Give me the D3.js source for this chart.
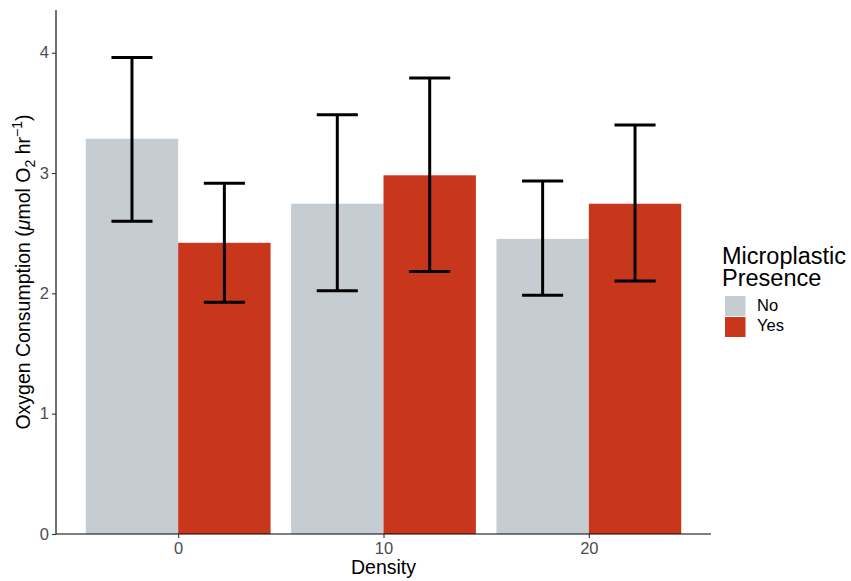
<!DOCTYPE html>
<html>
<head>
<meta charset="utf-8">
<script src="https://cdn.jsdelivr.net/npm/d3@7"></script>
<style>
  body { margin: 0; background: #fff; }
  text { font-family: "Liberation Sans", Arial, sans-serif; }
</style>
</head>
<body>
<div id="chart"></div>
<script>
// densities on the x axis
const densities = [0, 10, 20];
const groups = ['No', 'Yes'];

// mean oxygen consumption per density, one array per microplastic group
const meanNo = [3.285, 2.745, 2.453];
const meanYes = [2.420, 2.981, 2.745];
// error bar bounds
const lowNo = [2.600, 2.021, 1.984];
const highNo = [3.961, 3.484, 2.933];
const lowYes = [1.926, 2.181, 2.102];
const highYes = [2.916, 3.790, 3.400];

const yTicks = [0, 1, 2, 3, 4];
const colors = ['#c5cdd3', '#c8371b'];

const width = 851, height = 581;
const margin = { top: 10, right: 140, bottom: 47, left: 56 };

const rows = [];
densities.forEach(function(d, i) {
  rows.push({ density: d, group: 'No', mean: meanNo[i], lo: lowNo[i], hi: highNo[i] });
  rows.push({ density: d, group: 'Yes', mean: meanYes[i], lo: lowYes[i], hi: highYes[i] });
});

const svg = d3.select('#chart').append('svg')
  .attr('width', width)
  .attr('height', height);

// continuous x like ggplot: bars 9 units wide, expanded 5%
const x = d3.scaleLinear()
  .domain([-5.95, 25.95])
  .range([margin.left, width - margin.right]);

const y = d3.scaleLinear()
  .domain([0, 4.355])
  .range([height - margin.bottom, margin.top]);

const color = d3.scaleOrdinal().domain(groups).range(colors);

const barW = 4.5; // data units per dodged bar
const offset = function(g) { return g === 'No' ? -barW : 0; };

svg.append('g').selectAll('rect')
  .data(rows)
  .enter().append('rect')
    .attr('x', function(d) { return x(d.density + offset(d.group)); })
    .attr('width', x(barW) - x(0))
    .attr('y', function(d) { return y(d.mean); })
    .attr('height', function(d) { return y(0) - y(d.mean); })
    .attr('fill', function(d) { return color(d.group); });

// error bars
const capW = 1; // half width in data units
const eb = svg.append('g').attr('stroke', '#000').attr('stroke-width', 3).attr('fill', 'none');
rows.forEach(function(d) {
  const cx = d.density + offset(d.group) + barW / 2;
  eb.append('line').attr('x1', x(cx)).attr('x2', x(cx)).attr('y1', y(d.lo)).attr('y2', y(d.hi));
  eb.append('line').attr('x1', x(cx - capW)).attr('x2', x(cx + capW)).attr('y1', y(d.lo)).attr('y2', y(d.lo));
  eb.append('line').attr('x1', x(cx - capW)).attr('x2', x(cx + capW)).attr('y1', y(d.hi)).attr('y2', y(d.hi));
});

// axes
const xAxis = svg.append('g')
  .attr('transform', 'translate(0,' + y(0) + ')')
  .call(d3.axisBottom(x).tickValues(densities).tickSize(4).tickPadding(4));
const yAxis = svg.append('g')
  .attr('transform', 'translate(' + margin.left + ',0)')
  .call(d3.axisLeft(y).tickValues(yTicks).tickFormat(d3.format('d')).tickSize(4).tickPadding(3));

[xAxis, yAxis].forEach(function(a) {
  a.select('.domain').attr('stroke', '#000').attr('stroke-width', 1.1);
  a.selectAll('.tick line').attr('stroke', '#333').attr('stroke-width', 1.1);
  a.selectAll('.tick text').attr('fill', '#4d4d4d').style('font-size', '16.5px');
});
xAxis.select('.domain').attr('d', 'M' + x.range()[0] + ',0H' + x.range()[1]);
yAxis.select('.domain').attr('d', 'M0,' + y.range()[0] + 'V' + y.range()[1]);

svg.append('text')
  .attr('x', (x.range()[0] + x.range()[1]) / 2)
  .attr('y', 574)
  .attr('text-anchor', 'middle')
  .style('font-size', '19.5px')
  .text('Density');

const yt = svg.append('text')
  .attr('transform', 'translate(30,' + ((y.range()[0] + y.range()[1]) / 2) + ') rotate(-90)')
  .attr('text-anchor', 'middle')
  .style('font-size', '19.5px');
yt.append('tspan').text('Oxygen Consumption (');
yt.append('tspan').style('font-style', 'italic').text('\u03bc');
yt.append('tspan').text('mol O');
yt.append('tspan').attr('dy', 5).style('font-size', '14px').text('2');
yt.append('tspan').attr('dy', -5).text(' hr');
yt.append('tspan').attr('dy', -8).style('font-size', '14px').text('\u22121');
yt.append('tspan').attr('dy', 8).text(')');

// legend
const lg = svg.append('g').attr('transform', 'translate(722,0)');
lg.append('text').attr('y', 264).style('font-size', '23.5px').text('Microplastic');
lg.append('text').attr('y', 286).style('font-size', '23.5px').text('Presence');
groups.forEach(function(g, i) {
  lg.append('rect')
    .attr('x', 3).attr('y', 296 + i * 21)
    .attr('width', 20.5).attr('height', 20)
    .attr('fill', color(g));
  lg.append('text')
    .attr('x', 35).attr('y', 311 + i * 20)
    .style('font-size', '16.5px')
    .text(g);
});
</script>
</body>
</html>
